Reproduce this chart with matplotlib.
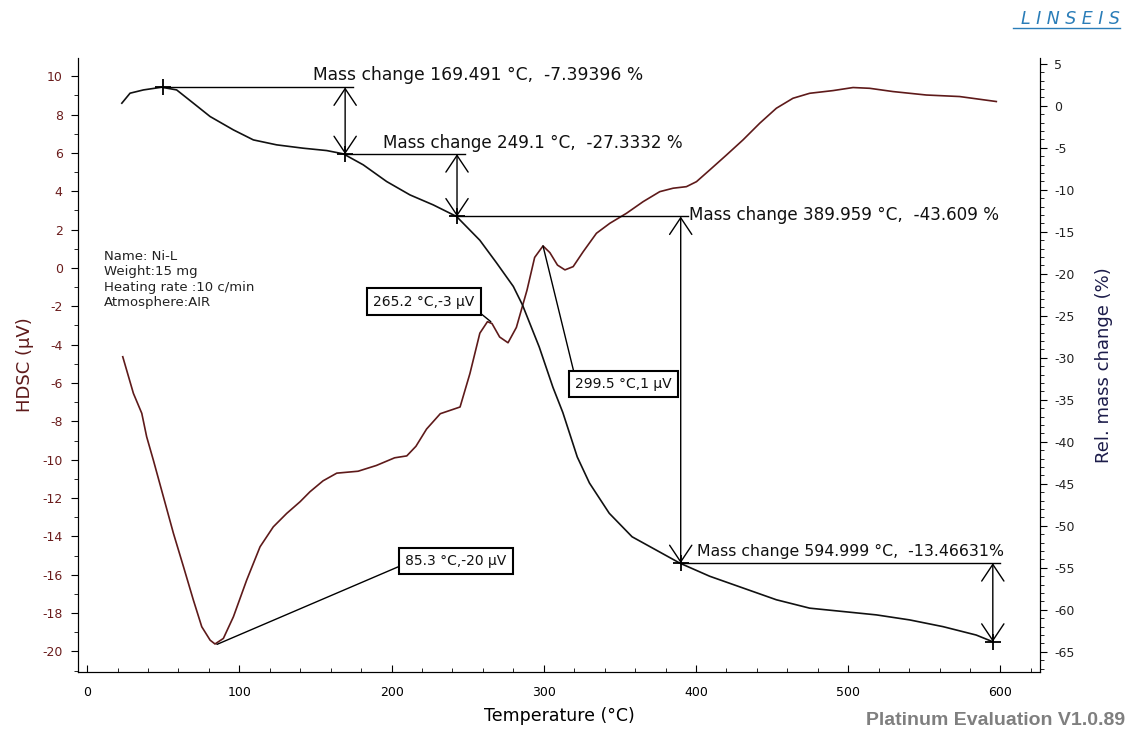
import matplotlib
matplotlib.use("Agg")
import matplotlib.pyplot as plt
from matplotlib.ticker import MultipleLocator
from matplotlib.lines import Line2D

plt.rcParams["axes.unicode_minus"] = False

# ---------------- data ----------------
dsc_T = [23.4, 30.4, 35.9, 39.1, 43.5, 50.1, 56.7, 63.3, 69.8, 75.3, 80.8, 84, 89.5, 96.1,
         104.8, 113.6, 122.3, 131.1, 139.9, 146.4, 155, 164, 178, 190, 202, 210, 216, 223,
         232, 245, 251.5, 258, 263, 266, 271, 276.5, 282, 289, 294, 299.5, 304, 309, 313.9,
         319.3, 325.9, 334.6, 343.4, 354.3, 365.3, 376.2, 385, 393.7, 400.3, 409, 420, 430.9,
         441.9, 452.8, 463.7, 474.7, 490, 503.2, 514.1, 529.4, 551.3, 573.2, 597.3]
dsc_V = [-4.63, -6.54, -7.58, -8.80, -10.02, -11.93, -13.84, -15.58, -17.32, -18.71, -19.41,
         -19.61, -19.32, -18.19, -16.28, -14.54, -13.5, -12.8, -12.19, -11.67, -11.1, -10.7,
         -10.6, -10.3, -9.9, -9.8, -9.3, -8.4, -7.6, -7.25, -5.5, -3.4, -2.8, -2.9, -3.6, -3.9,
         -3.1, -1.15, 0.55, 1.15, 0.8, 0.15, -0.10, 0.07, 0.85, 1.81, 2.33, 2.85, 3.46, 3.98,
         4.16, 4.24, 4.5, 5.11, 5.89, 6.68, 7.55, 8.33, 8.85, 9.11, 9.25, 9.41, 9.37, 9.2,
         9.02, 8.94, 8.68]

tg_T = [22.8, 28.2, 37, 49, 58.8, 69.8, 80.8, 96.1, 109.2, 124.5, 142, 157.4, 168.3, 181.4,
        196.8, 212.1, 227.4, 242.7, 258, 269, 280, 286, 297, 306, 312.5, 322, 330, 343, 358,
        374, 389.4, 409, 430.9, 452.8, 474.7, 496.6, 518.5, 540.4, 562.3, 584.1, 595]
tg_M = [0.32, 1.51, 1.9, 2.22, 1.9, 0.32, -1.27, -2.86, -4.05, -4.64, -5.04, -5.32, -5.71,
        -7.02, -9.01, -10.6, -11.79, -13.17, -16.0, -18.7, -21.5, -23.7, -28.7, -33.5, -36.5,
        -41.8, -44.9, -48.5, -51.3, -52.9, -54.44, -56.0, -57.4, -58.8, -59.8, -60.2, -60.6,
        -61.2, -62.0, -63.0, -63.8]

# mass-change step points (start of first step, then end of each step)
step_T = [50, 169.5, 243, 389.959, 594.999]
step_M = [2.2, -5.75, -13.17, -54.44, -63.8]
step_labels = ["Mass change 169.491 °C,  -7.39396 %",
               "Mass change 249.1 °C,  -27.3332 %",
               "Mass change 389.959 °C,  -43.609 %",
               "Mass change 594.999 °C,  -13.46631%"]

# DSC peak annotations
peak_T = [85.3, 265.2, 299.5]
peak_V = [-19.63, -2.8, 1.15]
peak_labels = ["85.3 °C,-20 µV", "265.2 °C,-3 µV", "299.5 °C,1 µV"]

info_text = "Name: Ni-L\nWeight:15 mg\nHeating rate :10 c/min\nAtmosphere:AIR"

# ---------------- layout ----------------
W, H = 1127, 732
fig = plt.figure(figsize=(W / 100, H / 100), dpi=100)
ax = fig.add_axes([78 / W, 1 - 672 / H, (1040 - 78) / W, (672 - 58) / H])
ax2 = ax.twinx()

dsc_color = "#5e1a1a"
tick_red = "#6a1c1c"
navy = "#1c1c4a"

ax.plot(dsc_T, dsc_V, color=dsc_color, lw=1.2, zorder=3)
ax2.plot(tg_T, tg_M, color="#111111", lw=1.2, zorder=3)

ax.set_xlim(-6, 626)
ax.set_ylim(-21.07, 10.95)
ax2.set_ylim(-67.4, 5.7)

ax.xaxis.set_major_locator(MultipleLocator(100))
ax.xaxis.set_minor_locator(MultipleLocator(20))
ax.yaxis.set_major_locator(MultipleLocator(2))
ax.yaxis.set_minor_locator(MultipleLocator(1))
ax2.yaxis.set_major_locator(MultipleLocator(5))
ax2.yaxis.set_minor_locator(MultipleLocator(1))

for a in (ax, ax2):
    a.spines["top"].set_visible(False)
ax.tick_params(axis="x", which="major", direction="in", length=5, pad=10, labelsize=9)
ax.tick_params(axis="x", which="minor", direction="in", length=3)
ax.tick_params(axis="y", which="major", direction="out", length=5, pad=6, labelsize=9,
               labelcolor=tick_red)
ax.tick_params(axis="y", which="minor", direction="out", length=3)
ax2.tick_params(axis="y", which="major", direction="out", length=5, pad=5, labelsize=9,
                labelcolor="#222222")
ax2.tick_params(axis="y", which="minor", direction="out", length=3)

ax.set_xlabel("Temperature (°C)", fontsize=12.5, labelpad=6)
ax.set_ylabel("HDSC (µV)", fontsize=13, color=dsc_color, labelpad=6)
ax2.set_ylabel("Rel. mass change (%)", fontsize=13, color=navy, labelpad=15)

# ---------------- mass change steps ----------------
label_pos = [(148.4, 3.7), (194.4, -4.4), (395.3, -13.0), (400.5, -53.0)]
label_size = [12.3, 12.1, 12.1, 11.3]
for i in range(4):
    t0, m0 = step_T[i], step_M[i]
    t1, m1 = step_T[i + 1], step_M[i + 1]
    ax2.plot([t0, t1 + 5], [m0, m0], color="black", lw=1.0, zorder=4)
    ax2.annotate("", xy=(t1, m1), xytext=(t1, m0),
                 arrowprops=dict(arrowstyle="<->,head_length=0.75,head_width=0.5",
                                 lw=1.0, color="black", shrinkA=0, shrinkB=0,
                                 mutation_scale=16), zorder=4)
    lx, ly = label_pos[i]
    ax2.text(lx, ly, step_labels[i], fontsize=label_size[i], ha="left", va="center",
             color="#111111", zorder=5)
ax2.plot(step_T, step_M, linestyle="none", marker="+", ms=11, mew=1.3,
         color="black", zorder=5)

# ---------------- DSC peak boxes ----------------
box_pos = [(242.3, -15.28), (221.3, -1.75), (352.3, -6.05)]
relpos = [(0.0, 0.3), (1.0, 0.0), (0.0, 1.0)]
for i in range(3):
    ax.annotate(peak_labels[i], xy=(peak_T[i], peak_V[i]), xytext=box_pos[i],
                ha="center", va="center", fontsize=10, color="#111111",
                bbox=dict(boxstyle="square,pad=0.45", fc="white", ec="black", lw=1.5),
                arrowprops=dict(arrowstyle="-", lw=1.0, color="black",
                                shrinkA=0, shrinkB=0, relpos=relpos[i]),
                zorder=6)

ax.text(11, 0.95, info_text, fontsize=9.5, ha="left", va="top", color="#222222",
        linespacing=1.25)

# ---------------- header / footer ----------------
fig.text(0.994, 1 - 19 / H, "L I N S E I S", ha="right", va="center", fontsize=12.5,
         style="italic", color="#2a7db8")
fig.add_artist(Line2D([1013 / W, 1120 / W], [1 - 28 / H, 1 - 28 / H],
                      color="#2a7db8", lw=1.0))
fig.text(0.998, 0.016, "Platinum Evaluation V1.0.89", ha="right", va="center",
         fontsize=14, fontweight="bold", color="#7f7f7f", family="Liberation Sans")

fig.savefig("out.png", dpi=100)
